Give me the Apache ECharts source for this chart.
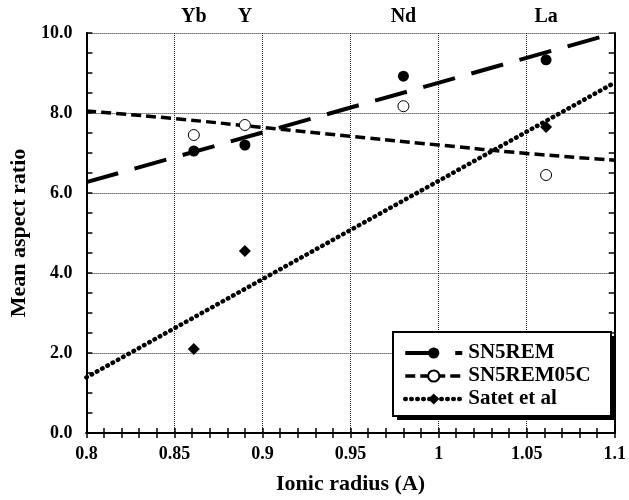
<!DOCTYPE html>
<html>
<head>
<meta charset="utf-8">
<script src="https://cdn.jsdelivr.net/npm/echarts@6/dist/echarts.min.js"></script>
<style>
  html, body { margin: 0; padding: 0; background: #fff; }
  #chart { width: 629px; height: 500px; }
</style>
</head>
<body>
<div id="chart"></div>
<script>
// measured points
const radii = [0.861, 0.89, 0.98, 1.061]
const sn5rem = [7.05, 7.2, 8.92, 9.33]
const sn5rem05c = [7.45, 7.7, 8.17, 6.45]
const satetRadii = [0.861, 0.89, 1.061]
const satet = [2.1, 4.55, 7.65]

// fitted curves
const fitX = [0.8, 1.1]
const sn5remFit = [6.27, 10.0]
const satetFit = [1.39, 8.76]
const curveX = [0.8, 0.85, 0.9, 0.95, 1.0, 1.05, 1.1]
const sn5rem05cFit = [8.05, 7.86, 7.64, 7.42, 7.2, 6.99, 6.82]

// element names along the top
const elementNames = ['Yb', 'Y', 'Nd', 'La']

const serif = 'Liberation Serif'
const pair = (xs, ys) => xs.map((x, i) => [x, ys[i]])

const chart = echarts.init(document.getElementById('chart'))

const tickStyle = { color: '#000', width: 1.5 }
const xBase = {
    type: 'value',
    min: 0.8,
    max: 1.1,
    interval: 0.05,
    axisLine: { show: true, lineStyle: { color: '#000', width: 2 } },
    axisTick: { show: true, inside: true, length: 5, lineStyle: tickStyle },
    minorTick: { show: true, splitNumber: 5, length: 5, lineStyle: tickStyle },
}
const yBase = {
    type: 'value',
    min: 0,
    max: 10,
    interval: 2,
    axisLine: { show: true, lineStyle: { color: '#000', width: 2 } },
    axisTick: { show: true, inside: true, length: 6, lineStyle: tickStyle },
    minorTick: { show: true, splitNumber: 4, length: 6, lineStyle: tickStyle },
}
const gridLine = { show: true, lineStyle: { color: '#222', width: 1, type: [1, 1] } }
const boldText = { color: '#000', fontWeight: 'bold', fontFamily: serif }

chart.setOption({
    animation: false,
    textStyle: { fontFamily: serif },
    grid: { left: 81, right: 9, top: 33, bottom: 63 },
    xAxis: [
        Object.assign({}, xBase, {
            position: 'bottom',
            splitLine: gridLine,
            axisLabel: Object.assign({}, boldText, {
                fontSize: 18, margin: 12,
                formatter: v => String(Math.round(v * 100) / 100),
            }),
            name: 'Ionic radius (A)',
            nameLocation: 'middle',
            nameGap: 40,
            nameTextStyle: Object.assign({}, boldText, { fontSize: 22 }),
        }),
        Object.assign({}, xBase, {
            position: 'top',
            splitLine: { show: false },
            axisLabel: { show: false },
        }),
    ],
    yAxis: [
        Object.assign({}, yBase, {
            position: 'left',
            splitLine: gridLine,
            axisLabel: Object.assign({}, boldText, {
                fontSize: 18, margin: 14,
                formatter: v => v.toFixed(1),
            }),
            name: 'Mean aspect ratio',
            nameLocation: 'middle',
            nameGap: 52,
            nameTextStyle: Object.assign({}, boldText, { fontSize: 22 }),
        }),
        Object.assign({}, yBase, {
            position: 'right',
            splitLine: { show: false },
            axisLabel: { show: false },
        }),
    ],
    // legend frame with its drop shadow
    graphic: [
        { type: 'rect', left: 397, top: 336, z: 3, shape: { width: 218, height: 84 }, style: { fill: '#000' } },
        { type: 'rect', left: 392, top: 331, z: 3, shape: { width: 218, height: 84 }, style: { fill: '#fff', stroke: '#000', lineWidth: 2 } },
    ],
    legend: {
        data: ['SN5REM', 'SN5REM05C', 'Satet et al'],
        orient: 'vertical',
        left: 403,
        top: 342,
        padding: 0,
        itemGap: 1,
        itemWidth: 57,
        itemHeight: 14,
        z: 10,
        selectedMode: false,
        lineStyle: { width: 'inherit' },
        textStyle: Object.assign({}, boldText, { fontSize: 21, lineHeight: 22, padding: [0, 0, 0, 1] }),
    },
    series: [
        {
            name: 'SN5REM',
            type: 'line',
            data: pair(fitX, sn5remFit),
            symbol: 'circle',
            showSymbol: false,
            itemStyle: { color: '#000' },
            lineStyle: { color: '#000', width: 4, type: [33, 17] },
            z: 3,
        },
        {
            name: 'SN5REM05C',
            type: 'line',
            data: pair(curveX, sn5rem05cFit),
            smooth: true,
            symbol: 'emptyCircle',
            showSymbol: false,
            itemStyle: { color: '#000' },
            lineStyle: { color: '#000', width: 3.5, type: [10, 5] },
            z: 3,
        },
        {
            name: 'Satet et al',
            type: 'line',
            data: pair(fitX, satetFit),
            symbol: 'diamond',
            showSymbol: false,
            itemStyle: { color: '#000' },
            lineStyle: { color: '#000', width: 4.5, type: [0.5, 5.5], cap: 'round' },
            z: 3,
        },
        {
            name: 'SN5REM',
            type: 'scatter',
            data: pair(radii, sn5rem),
            symbol: 'circle',
            symbolSize: 11,
            itemStyle: { color: '#000', opacity: 1 },
            z: 4,
        },
        {
            name: 'SN5REM05C',
            type: 'scatter',
            data: pair(radii, sn5rem05c),
            symbol: 'circle',
            symbolSize: 11,
            itemStyle: { color: '#fff', borderColor: '#000', borderWidth: 1, opacity: 1 },
            z: 4,
        },
        {
            name: 'Satet et al',
            type: 'scatter',
            data: pair(satetRadii, satet),
            symbol: 'diamond',
            symbolSize: 12,
            itemStyle: { color: '#000', opacity: 1 },
            z: 4,
        },
        {
            name: 'elements',
            type: 'scatter',
            data: radii.map((x, i) => ({ value: [x, 10], name: elementNames[i] })),
            symbolSize: 0,
            clip: false,
            silent: true,
            itemStyle: { opacity: 1 },
            label: Object.assign({}, boldText, {
                show: true,
                position: 'top',
                distance: 6,
                formatter: p => p.name,
                fontSize: 20,
            }),
        },
    ],
})
</script>
</body>
</html>
